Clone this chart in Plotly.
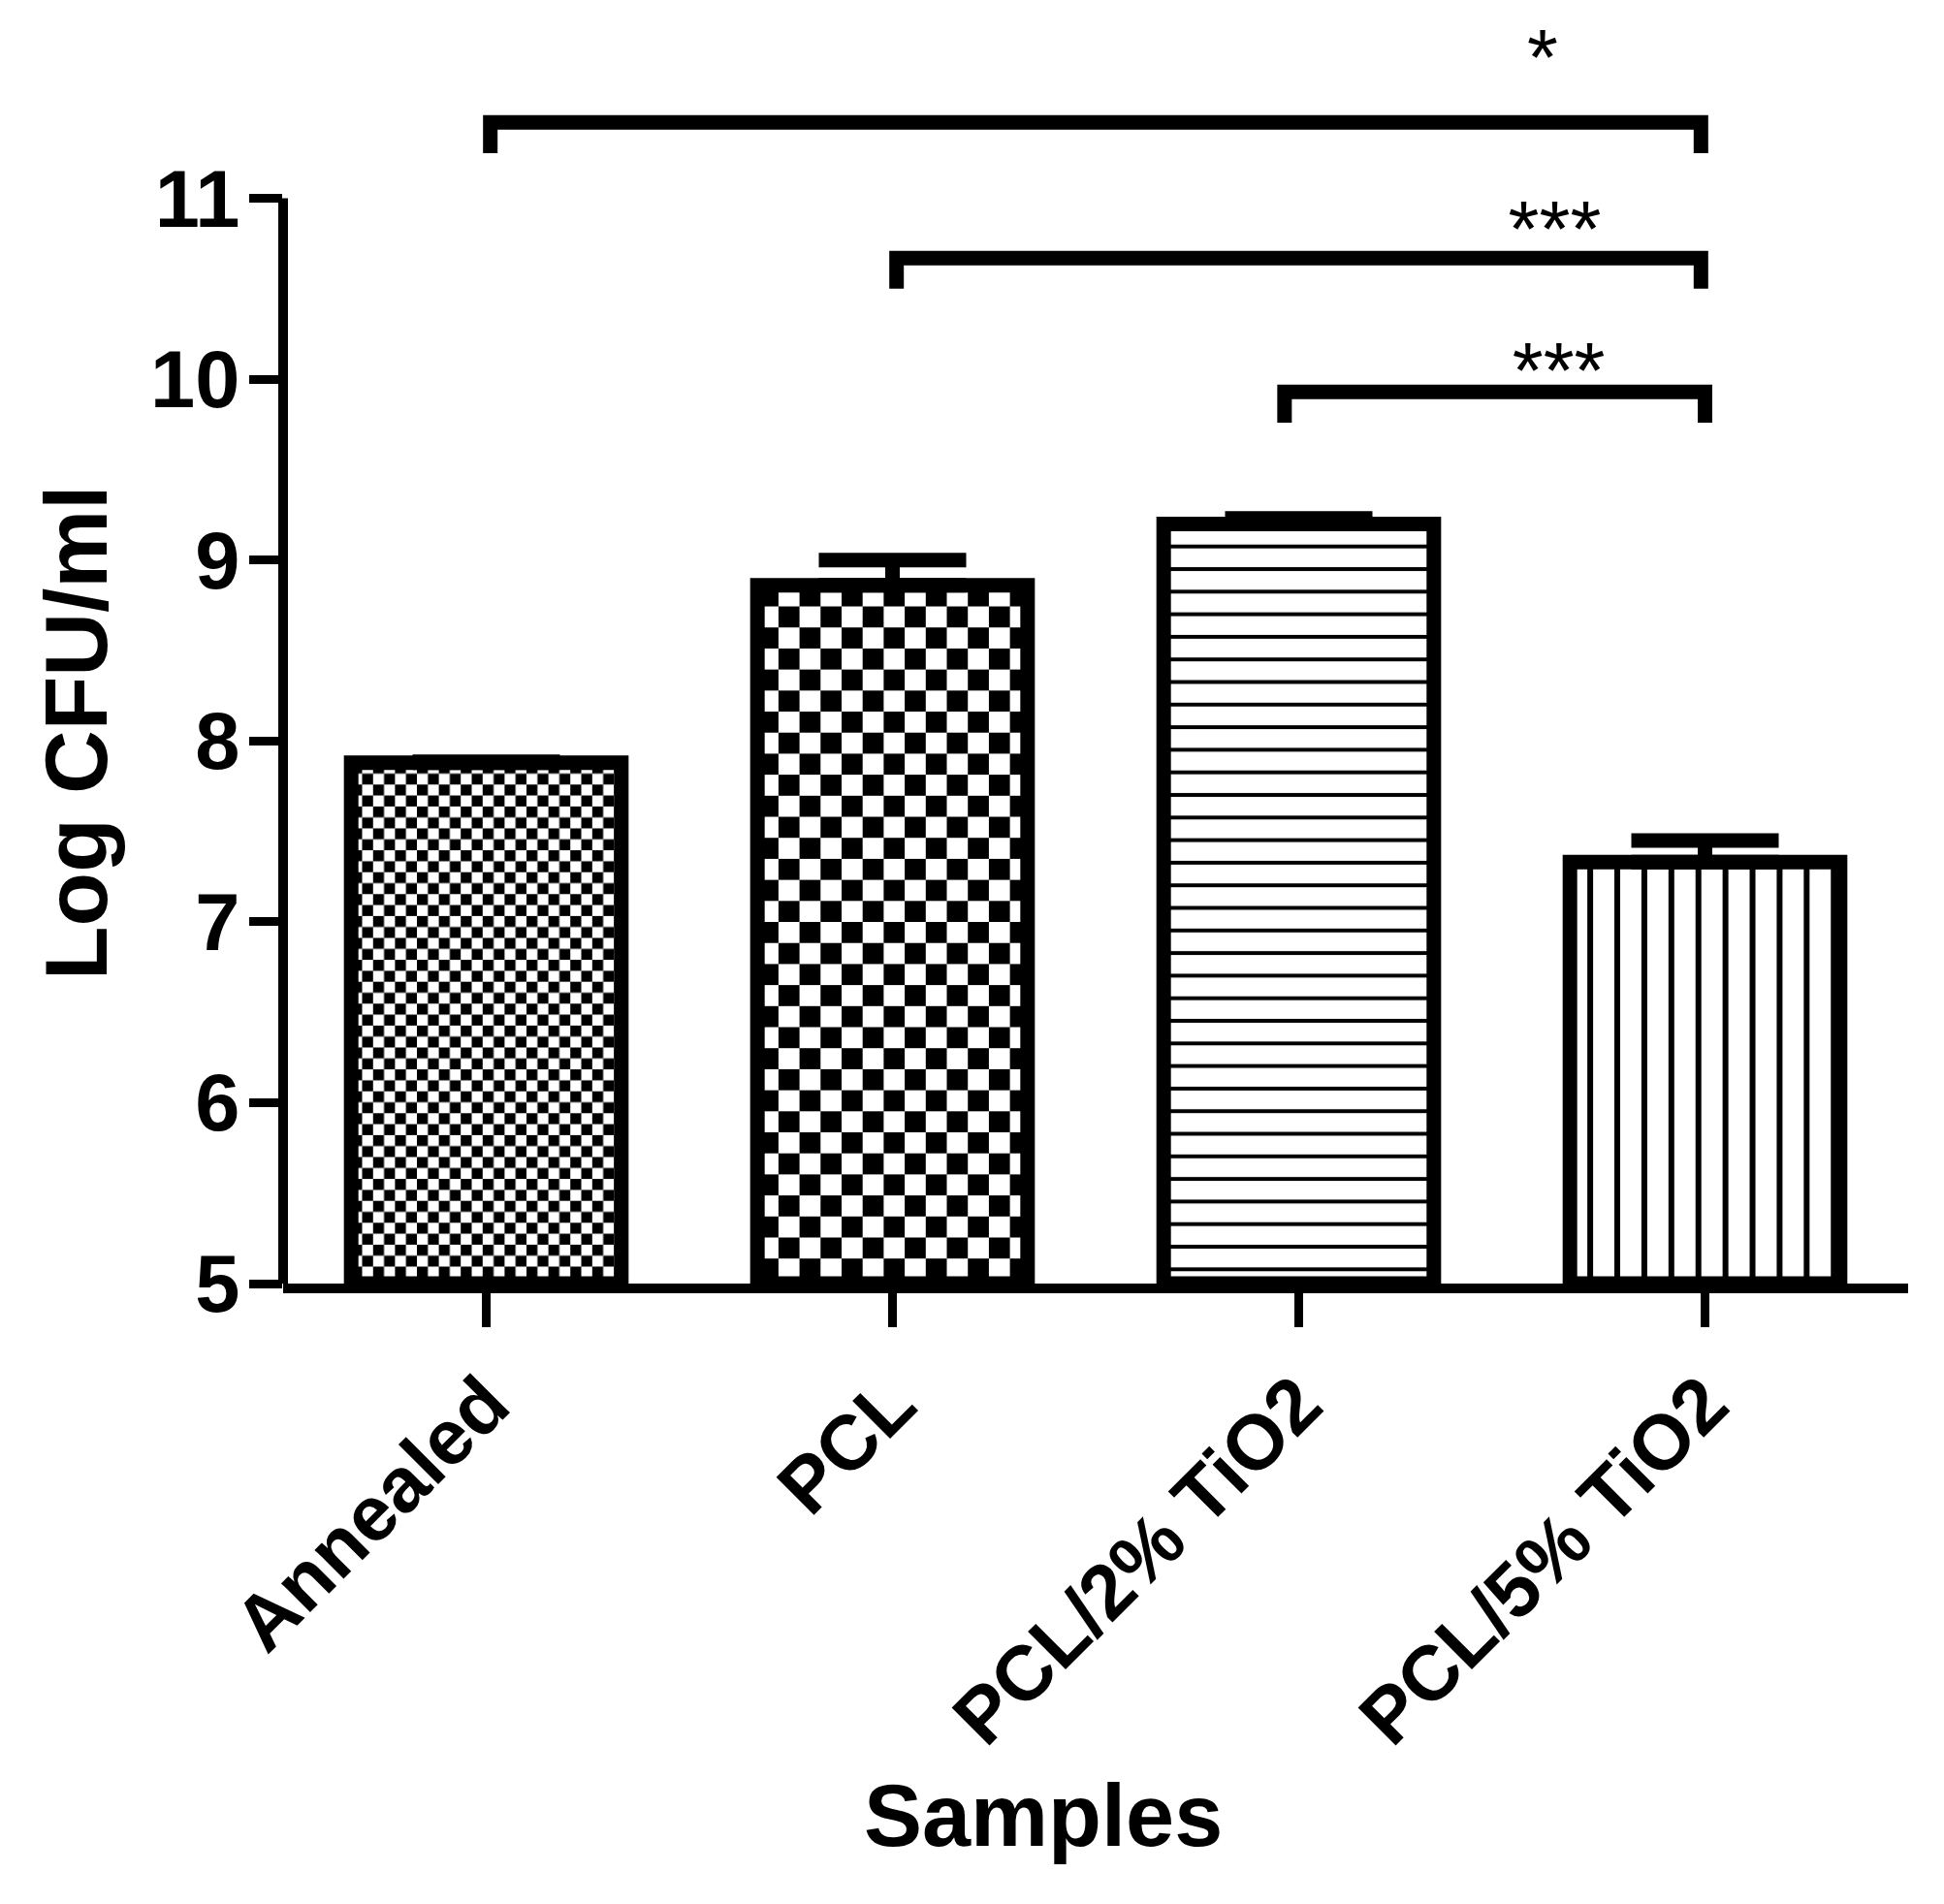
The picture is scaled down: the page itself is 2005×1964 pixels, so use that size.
import base64
import plotly.graph_objects as go

# data
samples = ["Annealed", "PCL", "PCL/2% TiO2", "PCL/5% TiO2"]
log_cfu = [7.88, 8.86, 9.20, 7.33]
sem = [0.005, 0.14, 0.03, 0.12]

# significance brackets
bracket_left = [0.01, 1.01, 1.965]
bracket_right = [2.99, 2.99, 3.0]
bracket_y = [11.42, 10.67, 9.93]
bracket_drop = 0.17
stars = ["*", "***", "***"]
star_x = [2.60, 2.63, 2.64]
star_y = [11.74, 10.79, 10.01]

# fill styles per bar (kind, period px, line px)
fills = [("check", 22.6, 11.3), ("check", 43.4, 21.7), ("hline", 23.3, 4), ("vline", 27.9, 6)]

W, H = 2005, 1964
ml, mr, mt, mb = 284, 45, 10, 648
plot_w = W - ml - mr
plot_h = H - mt - mb
xr = [-0.5, 3.5]
yr = [5, 12]
px_x = plot_w / (xr[1] - xr[0])
px_y = plot_h / (yr[1] - yr[0])
bar_w = 0.665

FONT = "Liberation Sans, Arial, sans-serif"


def fill_svg(w, h, kind, p, t):
    if kind == "check":
        c = t
        pat = (f'<pattern id="f" width="{p}" height="{p}" patternUnits="userSpaceOnUse">'
               f'<rect width="{p}" height="{p}" fill="white"/>'
               f'<rect width="{c}" height="{c}" fill="black"/>'
               f'<rect x="{c}" y="{c}" width="{c}" height="{c}" fill="black"/></pattern>')
    elif kind == "hline":
        pat = (f'<pattern id="f" width="10" height="{p}" patternUnits="userSpaceOnUse" y="{p/2}">'
               f'<rect width="10" height="{p}" fill="white"/>'
               f'<rect y="{(p-t)/2}" width="10" height="{t}" fill="black"/></pattern>')
    else:
        pat = (f'<pattern id="f" width="{p}" height="10" patternUnits="userSpaceOnUse" x="{p/4}">'
               f'<rect width="{p}" height="10" fill="white"/>'
               f'<rect x="{(p-t)/2}" width="{t}" height="10" fill="black"/></pattern>')
    svg = (f'<svg xmlns="http://www.w3.org/2000/svg" width="{w:.1f}" height="{h:.1f}" '
           f'viewBox="0 0 {w:.1f} {h:.1f}" preserveAspectRatio="none"><defs>{pat}</defs>'
           f'<rect width="{w:.1f}" height="{h:.1f}" fill="url(#f)"/></svg>')
    return "data:image/svg+xml;base64," + base64.b64encode(svg.encode()).decode()


fig = go.Figure()

fig.add_trace(go.Bar(
    x=list(range(len(samples))), y=[v - 5 for v in log_cfu], base=5,
    width=bar_w,
    marker=dict(color="rgba(0,0,0,0)", line=dict(color="black", width=15)),
    error_y=dict(type="data", symmetric=False, array=sem, arrayminus=[0] * len(sem),
                 color="black", thickness=15, width=76),
    showlegend=False,
))

images = []
for i, (v, f) in enumerate(zip(log_cfu, fills)):
    images.append(dict(
        source=fill_svg(bar_w * px_x, (v - 5) * px_y, *f),
        xref="x", yref="y", x=i - bar_w / 2, y=v,
        sizex=bar_w, sizey=v - 5, xanchor="left", yanchor="top",
        sizing="stretch", layer="below",
    ))

bx, by = [], []
for l, r, y in zip(bracket_left, bracket_right, bracket_y):
    bx += [l, l, r, r, None]
    by += [y - bracket_drop, y, y, y - bracket_drop, None]
fig.add_trace(go.Scatter(x=bx, y=by, mode="lines", line=dict(color="black", width=15),
                         showlegend=False, hoverinfo="skip"))
fig.add_trace(go.Scatter(x=star_x, y=star_y, mode="text", text=stars, cliponaxis=False,
                         textfont=dict(family=FONT, size=82, color="black"),
                         showlegend=False, hoverinfo="skip"))

fig.update_layout(
    width=W, height=H, autosize=False,
    margin=dict(l=ml, r=mr, t=mt, b=mb),
    paper_bgcolor="white", plot_bgcolor="rgba(0,0,0,0)",
    images=images,
    font=dict(family=FONT, color="black"),
    shapes=[dict(type="line", xref="paper", yref="y", x0=0, x1=0, y0=5, y1=11,
                 line=dict(color="black", width=10), layer="above")],
    annotations=[
        dict(text="<b>Log CFU/ml</b>", xref="paper", yref="paper", x=-0.127, y=0.435,
             xanchor="center", yanchor="middle",
             textangle=-90, showarrow=False, font=dict(size=91, family=FONT)),
        dict(text="<b>Samples</b>", xref="paper", yref="paper", x=0.468, y=-0.42,
             xanchor="center", yanchor="middle",
             showarrow=False, font=dict(size=90, family=FONT)),
    ],
)
fig.update_xaxes(range=xr, tickvals=list(range(len(samples))), ticktext=samples,
                 tickangle=-45, ticks="outside", ticklen=35, tickwidth=9, tickcolor="black",
                 showline=True, linewidth=10, linecolor="black", showgrid=False, zeroline=False,
                 tickfont=dict(family=FONT, size=80, weight="bold"))
fig.update_yaxes(range=yr, tickvals=[5, 6, 7, 8, 9, 10, 11], ticks="outside", ticklen=34,
                 tickwidth=9, tickcolor="black", showline=False, showgrid=False, zeroline=False,
                 tickfont=dict(family=FONT, size=83, weight="bold"), ticklabelstandoff=-7)

fig.write_html("out.html")
